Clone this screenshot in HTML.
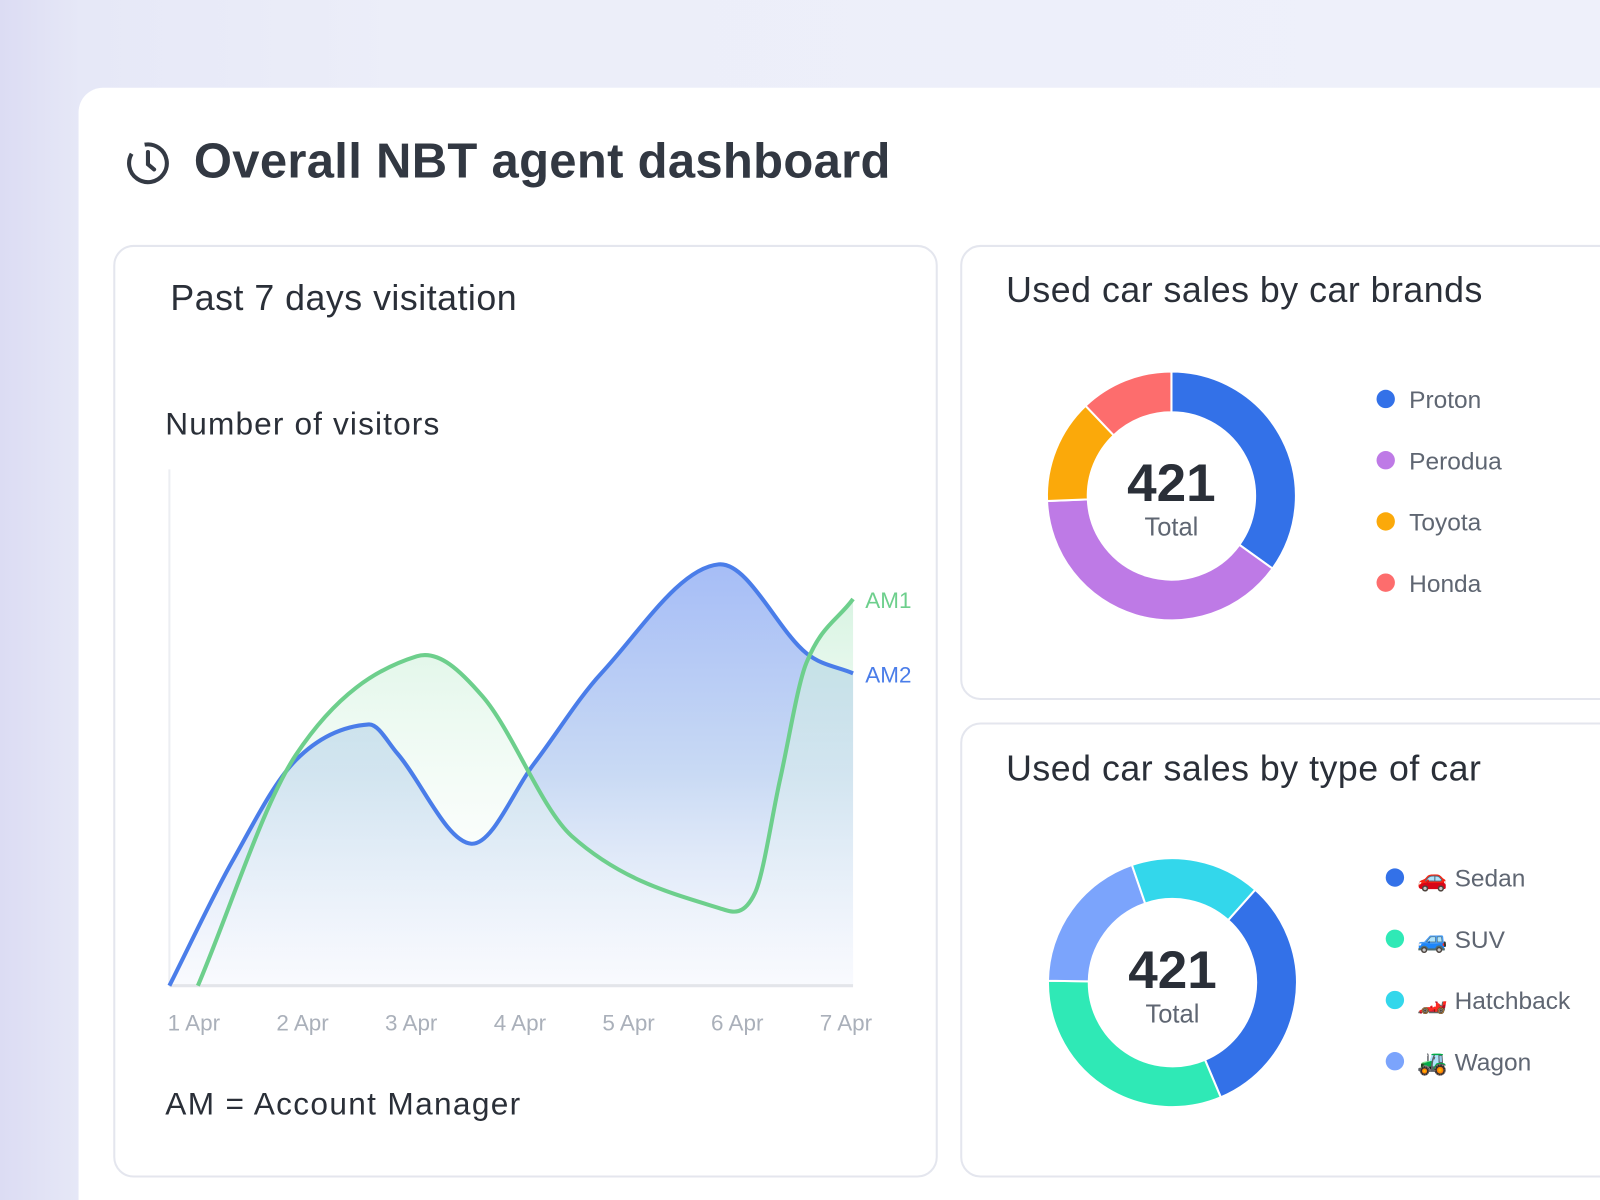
<!DOCTYPE html>
<html><head><meta charset="utf-8">
<style>
html,body{margin:0;padding:0;width:1600px;height:1200px;overflow:hidden;font-family:"Liberation Sans",sans-serif;}
#wrap{position:absolute;left:0;top:0;width:1568px;height:1176px;transform:scale(1.020408);transform-origin:0 0;
background:linear-gradient(90deg,#dcdcf3 0,#e6e8f7 80px,#eceef9 400px,#eef0fa 100%);overflow:hidden}
.card{position:absolute;left:77px;top:86px;width:1520px;height:1120px;background:#fff;border-radius:24px 0 0 0}
.panel{position:absolute;border:2px solid #e4e6ee;border-radius:20px;background:#fff;box-sizing:border-box}
.t{position:absolute;white-space:nowrap;color:#2a2f38}
</style></head><body>
<div id="wrap">
<div class="card"></div>
<svg style="position:absolute;left:120px;top:136px" width="52" height="52">
<circle cx="25" cy="24" r="18.5" fill="none" stroke="#343a44" stroke-width="4" stroke-dasharray="100 16" transform="rotate(-100 25 24)"/>
<path d="M25 13 L25 25 L31 30" fill="none" stroke="#343a44" stroke-width="4" stroke-linecap="round"/>
</svg>
<div class="t" style="left:190px;top:131px;font-size:48px;font-weight:bold;color:#323842;letter-spacing:0.3px">Overall NBT agent dashboard</div>

<div class="panel" style="left:111px;top:240px;width:808px;height:914px"></div>
<div class="t" style="left:167px;top:273px;font-size:35px;letter-spacing:0.5px">Past 7 days visitation</div>
<div class="t" style="left:162px;top:398px;font-size:31px;letter-spacing:1.1px">Number of visitors</div>
<div class="t" style="left:162px;top:1064px;font-size:31px;letter-spacing:1.3px">AM = Account Manager</div>
<svg id="line" style="position:absolute;left:0;top:0" width="1568" height="1176">
<defs>
<linearGradient id="gb" x1="0" y1="0" x2="0" y2="1"><stop offset="0" stop-color="#a6bdf6"/><stop offset="0.5" stop-color="#c9daf4"/><stop offset="1" stop-color="#f5f7fd" stop-opacity="0.6"/></linearGradient>
<linearGradient id="gg" x1="0" y1="0" x2="0" y2="1"><stop offset="0" stop-color="#c8efd6" stop-opacity="0.7"/><stop offset="1" stop-color="#ffffff" stop-opacity="0"/></linearGradient>
</defs>
</svg>

<div class="panel" style="left:941px;top:240px;width:700px;height:446px"></div>
<div class="t" style="left:986px;top:265px;font-size:35px;letter-spacing:0.5px">Used car sales by car brands</div>
<div class="panel" style="left:941px;top:708px;width:700px;height:446px"></div>
<div class="t" style="left:986px;top:734px;font-size:35px;letter-spacing:0.5px">Used car sales by type of car</div>
<svg id="donuts" style="position:absolute;left:0;top:0" width="1568" height="1176"></svg>

<script>
// Line chart data
const days = ["1 Apr","2 Apr","3 Apr","4 Apr","5 Apr","6 Apr","7 Apr"];
const am2X = [0,0.55,1.11,1.75,2.0,2.65,3.2,3.79,4.82,5.59,6];
const am2Y = [0,24,43.7,50.6,45,27.5,43,60.5,81.6,64.4,60.5];
const am1X = [0.25,1.11,2.17,2.75,3.53,4.83,5.14,5.36,5.59,6];
const am1Y = [0,44.7,63.8,56,29,15.0,18,40,62.5,74.9];
const yMax = 100;

const NS="http://www.w3.org/2000/svg";
const X0=166,X1=836,Y0=966,Y1=460;
const xs=d=>X0+d*(X1-X0)/(days.length-1);
const ys=v=>Y0-v*(Y0-Y1)/yMax;
function mk(tag,attrs,parent){const e=document.createElementNS(NS,tag);for(const k in attrs)e.setAttribute(k,attrs[k]);parent.appendChild(e);return e;}
function spline(px,py){
  const p=px.map((x,i)=>[xs(x),ys(py[i])]);
  const n=p.length;
  const m=p.map((b,i)=>{
    if(i===0) return (p[1][1]-p[0][1])/(p[1][0]-p[0][0]);
    if(i===n-1) return (p[n-1][1]-p[n-2][1])/(p[n-1][0]-p[n-2][0]);
    return (p[i+1][1]-p[i-1][1])/(p[i+1][0]-p[i-1][0]);
  });
  let d="M"+p[0][0]+" "+p[0][1];
  for(let i=0;i<n-1;i++){
    const b=p[i],c=p[i+1],dx=(c[0]-b[0])/3;
    d+=` C${b[0]+dx} ${b[1]+m[i]*dx} ${c[0]-dx} ${c[1]-m[i+1]*dx} ${c[0]} ${c[1]}`;
  }
  return d;
}
const L=document.getElementById('line');
const yAxis=mk('line',{x1:X0,y1:Y1,x2:X0,y2:Y0,stroke:'#eceef2','stroke-width':2},L);


const a2=spline(am2X,am2Y),a1=spline(am1X,am1Y);
const f2=mk('path',{d:a2+` L${xs(am2X[am2X.length-1])} ${Y0} L${xs(am2X[0])} ${Y0} Z`,fill:'url(#gb)'},L);


const f1=mk('path',{d:a1+` L${xs(am1X[am1X.length-1])} ${Y0} L${xs(am1X[0])} ${Y0} Z`,fill:'url(#gg)'},L);


const xAxis=mk('line',{x1:X0,y1:Y0,x2:X1,y2:Y0,stroke:'#e3e5ea','stroke-width':3},L);


const l2=mk('path',{d:a2,fill:'none',stroke:'#4a7de9','stroke-width':4},L);


const l1=mk('path',{d:a1,fill:'none',stroke:'#6dcf8c','stroke-width':4},L);


days.forEach((d,i)=>{
  const t=mk('text',{x:190+i*106.5,y:1010,'font-size':22,fill:'#aab0ba','text-anchor':'middle','font-family':'Liberation Sans'},L);
  t.textContent=d;
  
  
});
const lab1=mk('text',{x:848,y:ys(am1Y[am1Y.length-1])+9,'font-size':22,fill:'#6dcf8c','font-family':'Liberation Sans'},L);
lab1.textContent='AM1';


const lab2=mk('text',{x:848,y:ys(am2Y[am2Y.length-1])+9,'font-size':22,fill:'#4a7de9','font-family':'Liberation Sans'},L);
lab2.textContent='AM2';



// Donut data
const brandNames=["Proton","Perodua","Toyota","Honda"];
const brandValues=[147,166,57,51];
const brandColors=["#3371e8","#be7ae6","#fba90a","#fd6d6d"];
const brandDrawOrder=[0,1,2,3];
const typeNames=["Sedan","SUV","Hatchback","Wagon"];
const typeIcons=["🚗","🚙","🏎️","🚜"];
const typeValues=[135,133,71,82];
const typeColors=["#3371e8","#2fe9b6","#33d7eb","#7ba4fc"];
const typeDrawOrder=[0,1,3,2];
const D=document.getElementById('donuts');
function arc(cx,cy,r,R,a0,a1){
  const p=(rad,a)=>[cx+rad*Math.sin(a),cy-rad*Math.cos(a)];
  const lg=(a1-a0)>Math.PI?1:0;
  const [x0,y0]=p(R,a0),[x1,y1]=p(R,a1),[x2,y2]=p(r,a1),[x3,y3]=p(r,a0);
  return `M${x0} ${y0} A${R} ${R} 0 ${lg} 1 ${x1} ${y1} L${x2} ${y2} A${r} ${r} 0 ${lg} 0 ${x3} ${y3} Z`;
}
function donut(cx,cy,vals,cols,names,order,start,icons,lx,ly,tx){
  const tot=vals.reduce((a,b)=>a+b,0);
  let a=start;
  order.forEach(i=>{
    const v=vals[i];
    const b=a+v/tot*2*Math.PI;
    const s=mk('path',{d:arc(cx,cy,82,122,a,b),fill:cols[i],stroke:'#fff','stroke-width':2},D);
    
    
    a=b;
  });
  const n=mk('text',{x:cx,y:cy+5,'font-size':52,'font-weight':'bold',fill:'#2a2f38','text-anchor':'middle','font-family':'Liberation Sans'},D);
  n.textContent=tot;
  
  
  const t=mk('text',{x:cx,y:cy+39,'font-size':25,fill:'#5f6672','text-anchor':'middle','font-family':'Liberation Sans'},D);
  t.textContent='Total';
  
  
  names.forEach((nm,i)=>{
    const c=mk('circle',{cx:lx,cy:ly+i*60,r:9,fill:cols[i]},D);
    
    
    const tt=mk('text',{x:tx,y:ly+i*60+9,'font-size':24,fill:'#5f6672','font-family':'Liberation Sans, Noto Color Emoji, sans-serif'},D);
    tt.textContent=(icons?icons[i]+' ':'')+nm;
    
    
  });
}
donut(1148,486,brandValues,brandColors,brandNames,brandDrawOrder,0,null,1358,391,1381);
donut(1149,963,typeValues,typeColors,typeNames,typeDrawOrder,41.7/180*Math.PI,typeIcons,1367,860,1389);
</script>
</div>
</body></html>
